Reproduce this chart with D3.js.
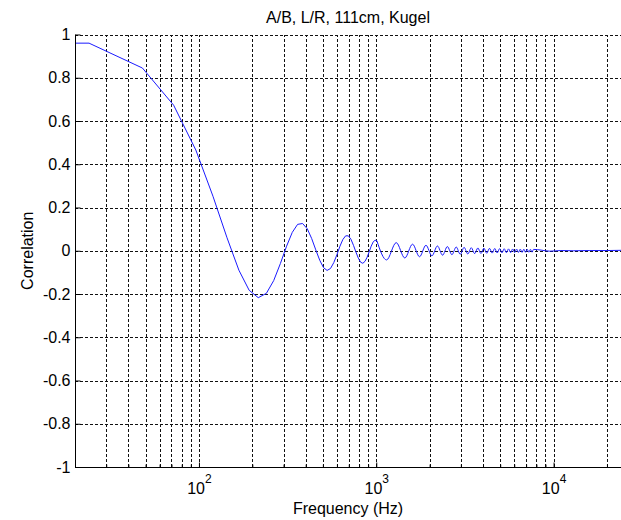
<!DOCTYPE html>
<html>
<head>
<meta charset="utf-8">
<script src="https://cdn.jsdelivr.net/npm/d3@7"></script>
<style>
  html, body { margin: 0; padding: 0; background: #fff; }
  svg { display: block; font-family: "Liberation Sans", Arial, Helvetica, sans-serif; }
</style>
</head>
<body>
<svg id="chart" width="621" height="520"></svg>
<script>
// Low-frequency part of the correlation curve (roughly one point per 24 Hz bin)
const lowFreqHz = [20, 24, 48, 72, 96, 120, 144, 168, 192, 216, 240, 264, 288, 312, 336, 360, 384, 408, 432, 456,
  480, 504, 528, 552, 576, 600, 624, 648, 672, 696, 720, 744, 768, 792, 816, 840, 864, 888, 912, 936, 960, 984, 1008];
const lowCorr = [0.960, 0.960, 0.845, 0.673, 0.466, 0.252, 0.060, -0.090, -0.183, -0.217, -0.197, -0.138, -0.059,
  0.021, 0.085, 0.122, 0.126, 0.102, 0.057, 0.004, -0.044, -0.078, -0.091, -0.082, -0.055, -0.018, 0.021, 0.052,
  0.069, 0.069, 0.053, 0.025, -0.006, -0.034, -0.053, -0.058, -0.049, -0.030, -0.005, 0.021, 0.040, 0.049, 0.046];

// Ripple peaks and troughs above 1 kHz
const rippleFreqHz = [1143, 1296, 1449, 1602, 1754, 1907, 2060, 2213, 2366, 2518, 2671, 2824, 2976, 3129, 3283,
  3435, 3588, 3741, 3893, 4046, 4199, 4351, 4504, 4657, 4809, 4962, 5115, 5267, 5420, 5573, 5726, 5878, 6031,
  6184, 6336, 6489, 6642, 6794, 6947, 7100, 7252, 7405, 7558, 7710];
const rippleCorr = [-0.0425, 0.0375, -0.0335, 0.0303, -0.0277, 0.0255, -0.0236, 0.0220, -0.0205, 0.0193, -0.0182,
  0.0172, -0.0163, 0.0155, -0.0148, 0.0141, -0.0135, 0.0130, -0.0125, 0.0120, -0.0116, 0.0112, -0.0108, 0.0104,
  -0.0101, 0.0098, -0.0095, 0.0092, -0.0090, 0.0087, -0.0085, 0.0083, -0.0081, 0.0079, -0.0077, 0.0075, -0.0073,
  0.0072, -0.0070, 0.0068, -0.0067, 0.0066, -0.0064, 0.0063];

// Nearly flat high-frequency tail
const tailFreqHz = [8500, 9500, 11000, 13000, 16000, 20000, 24000];
const tailCorr = [0.003, -0.002, 0.001, 0.000, 0.001, 0.001, 0.002];

// Axis ticks
const yTicks = [-1, -0.8, -0.6, -0.4, -0.2, 0, 0.2, 0.4, 0.6, 0.8, 1];
const yTickLabels = ["-1", "-0.8", "-0.6", "-0.4", "-0.2", "0", "0.2", "0.4", "0.6", "0.8", "1"];
const xMajorTicks = [100, 1000, 10000];
const xMajorExponents = ["2", "3", "4"];
const xMinorTicks = [30, 40, 50, 60, 70, 80, 90, 200, 300, 400, 500, 600, 700, 800, 900,
  2000, 3000, 4000, 5000, 6000, 7000, 8000, 9000, 20000];

const titleText = "A/B, L/R, 111cm, Kugel";
const xLabelText = "Frequency (Hz)";
const yLabelText = "Correlation";

const svg = d3.select("#chart");
const plotLeft = 75, plotRight = 621, plotTop = 34.5, plotBottom = 467;

const x = d3.scaleLog().domain([20, 24000]).range([plotLeft, plotRight]);
const y = d3.scaleLinear().domain([-1, 1]).range([plotBottom, plotTop]);

// Grid lines
const grid = svg.append("g")
  .attr("stroke", "#111")
  .attr("stroke-width", 1)
  .attr("stroke-dasharray", "3,2")
  .attr("shape-rendering", "crispEdges");

grid.selectAll("line.v")
  .data(xMajorTicks.concat(xMinorTicks))
  .join("line")
  .attr("class", "v")
  .attr("x1", d => Math.round(x(d)) + 0.5)
  .attr("x2", d => Math.round(x(d)) + 0.5)
  .attr("y1", plotBottom)
  .attr("y2", plotTop);

grid.selectAll("line.h")
  .data(yTicks.filter(d => d > -1))
  .join("line")
  .attr("class", "h")
  .attr("x1", plotLeft)
  .attr("x2", plotRight)
  .attr("y1", d => Math.round(y(d)) + 0.5)
  .attr("y2", d => Math.round(y(d)) + 0.5);

// Curve: straight segments between the low-frequency bins, smooth ripples above
const lowPts = lowFreqHz.map((f, i) => [f, lowCorr[i]]);
const highPts = [lowPts[lowPts.length - 1]]
  .concat(rippleFreqHz.map((f, i) => [f, rippleCorr[i]]))
  .concat(tailFreqHz.map((f, i) => [f, tailCorr[i]]));

svg.append("clipPath").attr("id", "plotClip")
  .append("rect").attr("x", plotLeft).attr("y", plotTop - 2)
  .attr("width", plotRight - plotLeft).attr("height", plotBottom - plotTop + 4);

const curveGroup = svg.append("g")
  .attr("clip-path", "url(#plotClip)")
  .attr("fill", "none")
  .attr("stroke", "#1a1aff")
  .attr("stroke-width", 1)
  .attr("stroke-linejoin", "round");

curveGroup.append("path")
  .datum(lowPts)
  .attr("d", d3.line().x(d => x(d[0])).y(d => y(d[1])));

curveGroup.append("path")
  .datum(highPts)
  .attr("d", d3.line().x(d => x(d[0])).y(d => y(d[1])).curve(d3.curveMonotoneX));

// Y axis
const yAxis = svg.append("g")
  .attr("transform", `translate(${plotLeft + 0.5},0)`)
  .call(d3.axisLeft(y)
    .tickValues(yTicks)
    .tickSizeInner(-5)
    .tickSizeOuter(0)
    .tickPadding(5)
    .tickFormat((d, i) => yTickLabels[i]));
yAxis.select(".domain").attr("stroke", "#000").attr("d", `M0,${plotTop}V${plotBottom + 0.5}`);
yAxis.selectAll(".tick line").attr("stroke", "#000");
yAxis.selectAll(".tick text")
  .attr("font-size", 16)
  .attr("font-family", "Liberation Sans, Arial, sans-serif")
  .attr("fill", "#000");

// X axis: minor ticks
const xMinor = svg.append("g")
  .attr("transform", `translate(0,${plotBottom + 0.5})`)
  .call(d3.axisBottom(x).tickValues(xMinorTicks).tickSizeInner(-3).tickSizeOuter(0).tickFormat(""));
xMinor.select(".domain").remove();
xMinor.selectAll(".tick line").attr("stroke", "#000");

// X axis: major ticks and labels
const xAxis = svg.append("g")
  .attr("transform", `translate(0,${plotBottom + 0.5})`)
  .call(d3.axisBottom(x).tickValues(xMajorTicks).tickSizeInner(-5).tickSizeOuter(0).tickFormat(""));
xAxis.select(".domain").attr("stroke", "#000").attr("d", `M${plotLeft},0H${plotRight + 1}`);
xAxis.selectAll(".tick line").attr("stroke", "#000");
xAxis.selectAll(".tick text").remove();
xAxis.selectAll(".tick").each(function (d, i) {
  const t = d3.select(this).append("text")
    .attr("y", 26)
    .attr("text-anchor", "middle")
    .attr("fill", "#000")
    .attr("font-size", 16)
    .attr("font-family", "Liberation Sans, Arial, sans-serif");
  t.append("tspan").text("10");
  t.append("tspan").attr("dy", -11).attr("font-size", 12).text(xMajorExponents[i]);
});

// Title and axis labels
svg.append("text")
  .attr("x", (plotLeft + plotRight) / 2)
  .attr("y", 22.5)
  .attr("text-anchor", "middle")
  .attr("font-size", 16)
  .attr("fill", "#000")
  .text(titleText);

svg.append("text")
  .attr("x", (plotLeft + plotRight) / 2)
  .attr("y", 514)
  .attr("text-anchor", "middle")
  .attr("font-size", 16)
  .attr("fill", "#000")
  .text(xLabelText);

svg.append("text")
  .attr("transform", `translate(32.5,${(plotTop + plotBottom) / 2}) rotate(-90)`)
  .attr("text-anchor", "middle")
  .attr("font-size", 16)
  .attr("fill", "#000")
  .text(yLabelText);
</script>
</body>
</html>
